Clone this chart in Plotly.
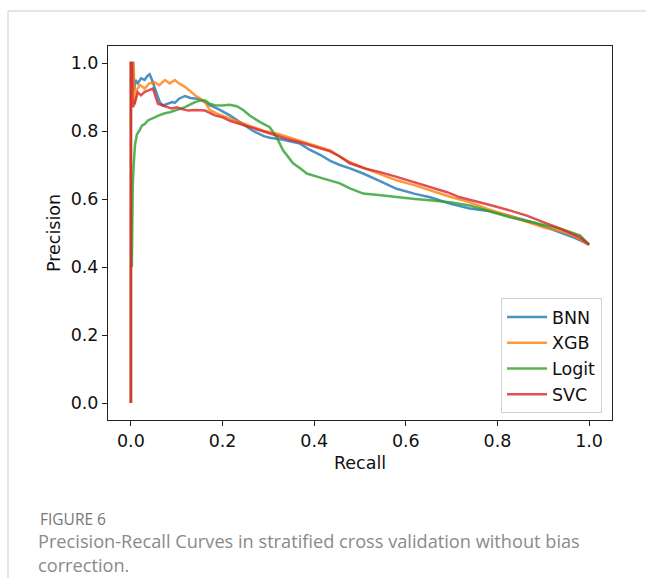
import plotly.graph_objects as go

# ---- data ----
bnn_recall = [0.0, 0.0, 0.004, 0.007, 0.010, 0.015, 0.022, 0.030, 0.036, 0.041, 0.046, 0.052, 0.058, 0.063,
              0.070, 0.080, 0.090, 0.096, 0.105, 0.118, 0.130, 0.145, 0.155, 0.172, 0.190, 0.216, 0.240,
              0.267, 0.290, 0.303, 0.330, 0.369, 0.390, 0.413, 0.435, 0.456, 0.478, 0.507, 0.540, 0.580,
              0.620, 0.653, 0.700, 0.740, 0.780, 0.827, 0.880, 0.937, 0.970, 1.0]
bnn_precision = [0.0, 1.0, 1.0, 0.92, 0.95, 0.94, 0.955, 0.95, 0.962, 0.967, 0.95, 0.925, 0.90, 0.885,
                 0.875, 0.88, 0.885, 0.883, 0.895, 0.903, 0.897, 0.895, 0.89, 0.876, 0.865, 0.846, 0.825,
                 0.80, 0.785, 0.78, 0.775, 0.763, 0.745, 0.73, 0.712, 0.70, 0.69, 0.675, 0.655, 0.63,
                 0.615, 0.605, 0.585, 0.572, 0.565, 0.55, 0.53, 0.50, 0.485, 0.466]

xgb_recall = [0.0, 0.0, 0.006, 0.008, 0.012, 0.020, 0.030, 0.040, 0.052, 0.062, 0.074, 0.085, 0.096, 0.105,
              0.118, 0.130, 0.140, 0.152, 0.162, 0.172, 0.190, 0.216, 0.240, 0.267, 0.290, 0.318, 0.354,
              0.380, 0.413, 0.435, 0.456, 0.478, 0.522, 0.580, 0.620, 0.653, 0.700, 0.740, 0.780, 0.827,
              0.860, 0.900, 0.940, 0.970, 1.0]
xgb_precision = [0.0, 1.0, 1.0, 0.88, 0.92, 0.935, 0.925, 0.94, 0.943, 0.935, 0.95, 0.94, 0.95, 0.94,
                 0.93, 0.915, 0.905, 0.895, 0.885, 0.862, 0.85, 0.837, 0.825, 0.81, 0.80, 0.793, 0.778,
                 0.765, 0.752, 0.743, 0.725, 0.708, 0.684, 0.655, 0.64, 0.625, 0.605, 0.59, 0.57, 0.55,
                 0.535, 0.517, 0.505, 0.49, 0.466]

logit_recall = [0.002, 0.003, 0.004, 0.006, 0.009, 0.013, 0.018, 0.024, 0.030, 0.037, 0.045, 0.052, 0.060,
                0.074, 0.085, 0.096, 0.105, 0.118, 0.130, 0.140, 0.152, 0.162, 0.172, 0.183, 0.200, 0.215,
                0.231, 0.245, 0.260, 0.282, 0.303, 0.318, 0.332, 0.354, 0.370, 0.384, 0.413, 0.435, 0.456,
                0.478, 0.507, 0.540, 0.580, 0.620, 0.653, 0.700, 0.740, 0.780, 0.827, 0.880, 0.937, 0.980, 1.0]
logit_precision = [0.40, 0.55, 0.64, 0.70, 0.76, 0.79, 0.80, 0.816, 0.82, 0.831, 0.835, 0.84, 0.845,
                   0.852, 0.855, 0.86, 0.865, 0.87, 0.878, 0.885, 0.89, 0.89, 0.88, 0.876, 0.875, 0.877,
                   0.873, 0.862, 0.845, 0.826, 0.811, 0.782, 0.743, 0.705, 0.69, 0.675, 0.663, 0.655, 0.646,
                   0.631, 0.616, 0.612, 0.605, 0.60, 0.596, 0.59, 0.581, 0.565, 0.546, 0.53, 0.513, 0.493, 0.466]

svc_recall = [0.0, 0.0, 0.002, 0.004, 0.008, 0.012, 0.015, 0.022, 0.030, 0.040, 0.048, 0.053, 0.059, 0.070,
              0.080, 0.089, 0.100, 0.110, 0.125, 0.140, 0.162, 0.183, 0.200, 0.216, 0.240, 0.267, 0.290,
              0.318, 0.345, 0.369, 0.400, 0.435, 0.456, 0.478, 0.510, 0.544, 0.580, 0.616, 0.650, 0.690,
              0.718, 0.740, 0.790, 0.830, 0.864, 0.900, 0.937, 0.980, 1.0]
svc_precision = [0.0, 1.0, 1.0, 0.87, 0.88, 0.90, 0.914, 0.905, 0.915, 0.92, 0.925, 0.905, 0.88, 0.875,
                 0.87, 0.866, 0.87, 0.865, 0.86, 0.862, 0.86, 0.846, 0.84, 0.83, 0.82, 0.808, 0.798,
                 0.787, 0.775, 0.767, 0.755, 0.74, 0.725, 0.705, 0.69, 0.679, 0.665, 0.65, 0.635, 0.62,
                 0.605, 0.598, 0.58, 0.565, 0.551, 0.532, 0.513, 0.487, 0.466]

series = [
    ("BNN", bnn_recall, bnn_precision, "#1f77b4"),
    ("XGB", xgb_recall, xgb_precision, "#ff7f0e"),
    ("Logit", logit_recall, logit_precision, "#2ca02c"),
    ("SVC", svc_recall, svc_precision, "#d62728"),
]

tick_vals = [0.0, 0.2, 0.4, 0.6, 0.8, 1.0]
tick_text = ["0.0", "0.2", "0.4", "0.6", "0.8", "1.0"]

W, H = 646, 578
L, R, T, B = 108, 612, 46, 420  # plot area in pixels
FONT = "'DejaVu Sans', DejaVuSans, Verdana, sans-serif"


def px(x):
    return (x - L) / (R - L)


def py(y):
    return (B - y) / (B - T)


fig = go.Figure()
for name, rx, ry, col in series:
    fig.add_trace(go.Scatter(x=rx, y=ry, mode="lines", name=name, legendgroup=name,
                             line=dict(color=col, width=2.5), opacity=0.8))

axis_common = dict(range=[-0.05, 1.05], tickvals=tick_vals, ticktext=tick_text, showgrid=False,
                   zeroline=False, showline=True, mirror=True, linecolor="#222", linewidth=1,
                   ticks="outside", ticklen=5, tickwidth=1, tickcolor="#222",
                   tickfont=dict(family=FONT, size=17.5, color="#111"))

fig.update_xaxes(**axis_common, title=dict(text="Recall", font=dict(family=FONT, size=17.5, color="#111"), standoff=6))
fig.update_yaxes(**axis_common, title=dict(text="Precision", font=dict(family=FONT, size=17.5, color="#111"), standoff=5))

fig.update_layout(
    width=W, height=H,
    margin=dict(l=L, r=W - R, t=T, b=H - B),
    paper_bgcolor="white", plot_bgcolor="white",
    showlegend=True,
    legend=dict(x=px(602), y=py(413), xanchor="right", yanchor="bottom",
                bgcolor="white", bordercolor="#d0d0d0", borderwidth=1,
                font=dict(family=FONT, size=17.5, color="#111"),
                traceorder="grouped", tracegroupgap=0, itemwidth=40),
    shapes=[
        dict(type="line", xref="paper", yref="paper", x0=px(8), x1=px(646), y0=py(11), y1=py(11),
             line=dict(color="#cccccc", width=1)),
        dict(type="line", xref="paper", yref="paper", x0=px(8), x1=px(8), y0=py(11), y1=py(578),
             line=dict(color="#cccccc", width=1)),
    ],
    annotations=[
        dict(text="FIGURE 6", xref="paper", yref="paper", x=px(38), y=py(519), xanchor="left",
             yanchor="middle", showarrow=False, font=dict(family="Open Sans", size=15.5, color="#777777")),
        dict(text="Precision-Recall Curves in stratified cross validation without bias<br>correction.",
             xref="paper", yref="paper", x=px(37), y=py(578), xanchor="left", yanchor="bottom",
             align="left", showarrow=False, borderpad=0,
             font=dict(family="Open Sans", size=18.2, color="#8a8a8a")),
    ],
)

fig.write_html("out.html")
